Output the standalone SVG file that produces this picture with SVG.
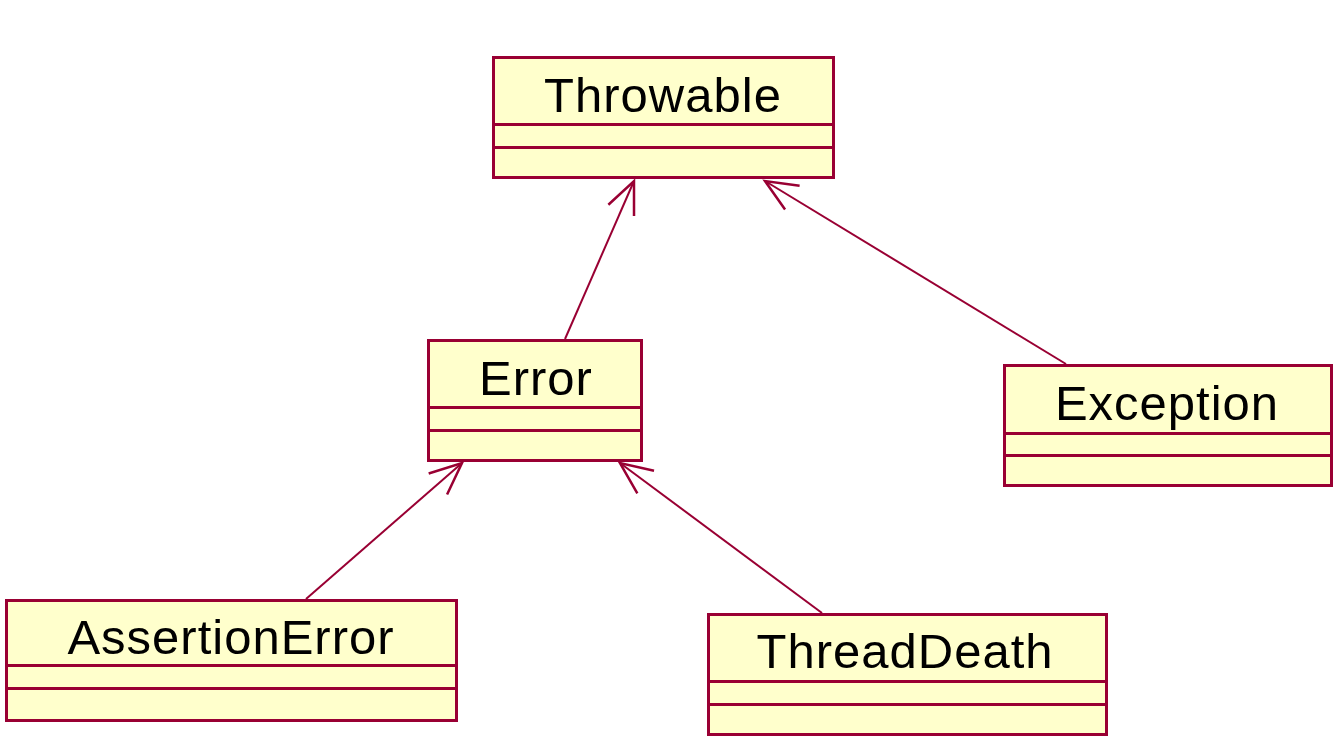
<svg xmlns="http://www.w3.org/2000/svg" width="1338" height="755" viewBox="0 0 1338 755">
<style>
.box{fill:#FFFFCC;stroke:#990033;stroke-width:3}
.sep{stroke:#990033;stroke-width:3}
.lbl{font-family:"Liberation Sans",Arial,sans-serif;font-size:49px;letter-spacing:1px;fill:#000;text-anchor:middle}
.conn{stroke:#990033;stroke-width:2;fill:none;marker-end:url(#open)}
</style>
<defs>
<marker id="open" markerUnits="userSpaceOnUse" markerWidth="50" markerHeight="50" viewBox="-40 -20 50 40" refX="0" refY="0" orient="auto" overflow="visible">
<path d="M-32,-14 L0,0 L-32,14" fill="none" stroke="#990033" stroke-width="2.5"/>
</marker>
</defs>
<rect width="1338" height="755" fill="#fff"/>
<g id="connectors">
<line class="conn" x1="565" y1="339" x2="634" y2="181"/>
<line class="conn" x1="1066" y1="364" x2="765" y2="181"/>
<line class="conn" x1="306" y1="599" x2="462" y2="463"/>
<line class="conn" x1="822" y1="613" x2="620" y2="463"/>
</g>
<g id="throwable">
<rect class="box" x="493.5" y="57.5" width="340" height="120"/>
<line class="sep" x1="493.5" y1="124.5" x2="833.5" y2="124.5"/>
<line class="sep" x1="493.5" y1="147.5" x2="833.5" y2="147.5"/>
<text class="lbl" x="663" y="112">Throwable</text>
</g>
<g id="error">
<rect class="box" x="428.5" y="340.5" width="213" height="120"/>
<line class="sep" x1="428.5" y1="407.5" x2="641.5" y2="407.5"/>
<line class="sep" x1="428.5" y1="430.5" x2="641.5" y2="430.5"/>
<text class="lbl" x="536" y="395">Error</text>
</g>
<g id="exception">
<rect class="box" x="1004.5" y="365.5" width="327" height="120"/>
<line class="sep" x1="1004.5" y1="433.5" x2="1331.5" y2="433.5"/>
<line class="sep" x1="1004.5" y1="455.5" x2="1331.5" y2="455.5"/>
<text class="lbl" x="1167" y="420">Exception</text>
</g>
<g id="assertionerror">
<rect class="box" x="6.5" y="600.5" width="450" height="120"/>
<line class="sep" x1="6.5" y1="665.5" x2="456.5" y2="665.5"/>
<line class="sep" x1="6.5" y1="688.5" x2="456.5" y2="688.5"/>
<text class="lbl" x="231" y="654">AssertionError</text>
</g>
<g id="threaddeath">
<rect class="box" x="708.5" y="614.5" width="398" height="120"/>
<line class="sep" x1="708.5" y1="681.5" x2="1106.5" y2="681.5"/>
<line class="sep" x1="708.5" y1="704.5" x2="1106.5" y2="704.5"/>
<text class="lbl" x="905" y="668">ThreadDeath</text>
</g>
</svg>
